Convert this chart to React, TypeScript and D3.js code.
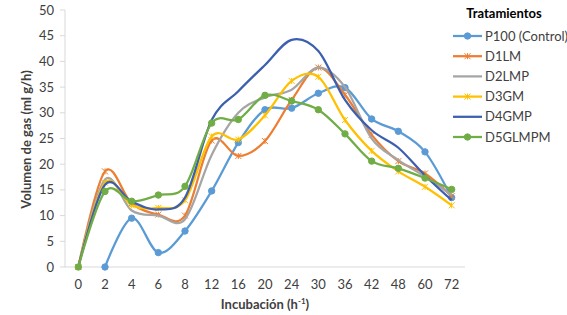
import React from "react";
import * as d3 from "d3";

const categories = ["0", "2", "4", "6", "8", "12", "16", "20", "24", "30", "36", "42", "48", "60", "72"];
const p100: (number | null)[] = [null, 0, 9.5, 2.8, 7, 14.8, 24.2, 30.6, 30.9, 33.8, 34.9, 28.8, 26.4, 22.4, 13.5];
const d1lm: (number | null)[] = [0, 18.6, 12.4, 10.2, 10, 24.6, 21.6, 24.5, 32.5, 38.8, 33.5, 25.7, 20.6, 18.2, 13.8];
const d2lmp: (number | null)[] = [0, 17, 11, 10, 9.3, 21.8, 30, 33, 34.5, 38.8, 35, 25, 20.8, 17.6, 14];
const d3gm: (number | null)[] = [0, 16.4, 12, 11.5, 13, 25.4, 24.8, 29.5, 36.2, 37, 28.6, 22.6, 18.6, 15.6, 12];
const d4gmp: (number | null)[] = [0, 16, 12.7, 11.2, 13.5, 28.6, 34.2, 39.3, 44.2, 42, 32.5, 26.6, 23.2, 17.8, 13];
const d5glmpm: (number | null)[] = [0, 14.7, 12.8, 14, 15.7, 28, 28.7, 33.4, 32.3, 30.6, 25.9, 20.6, 19.2, 17.3, 15.1];
const yTicks = [0, 5, 10, 15, 20, 25, 30, 35, 40, 45, 50];

const seriesNames = ["P100 (Control)", "D1LM", "D2LMP", "D3GM", "D4GMP", "D5GLMPM"];
const seriesColors = ["#5B9BD5", "#ED7D31", "#A5A5A5", "#FFC000", "#3C5FAE", "#70AD47"];
const seriesMarkers = ["circle", "star", "none", "star", "none", "circle"];
const seriesValues = [p100, d1lm, d2lmp, d3gm, d4gmp, d5glmpm];

const W = 567;
const H = 315;
const left = 65;
const right = 465;
const top = 10;
const bottom = 267;
const font = "Lato, 'Open Sans', sans-serif";

function Marker({ type, x, y, color }: { type: string; x: number; y: number; color: string }) {
  if (type === "circle") return <circle cx={x} cy={y} r={3.2} fill={color} stroke={color} />;
  if (type === "star") {
    const s = 3;
    return (
      <g stroke={color} strokeWidth={1}>
        <line x1={x - s} y1={y - s} x2={x + s} y2={y + s} />
        <line x1={x - s} y1={y + s} x2={x + s} y2={y - s} />
        <line x1={x} y1={y - s} x2={x} y2={y + s} />
      </g>
    );
  }
  return null;
}

export default function App() {
  const x = d3.scaleBand<string>().domain(categories).range([left, right]);
  const y = d3.scaleLinear().domain([0, 50]).range([bottom, top]);
  const cx = (c: string) => (x(c) ?? 0) + x.bandwidth() / 2;
  const line = d3
    .line<number | null>()
    .defined((d) => d !== null)
    .x((_, i) => cx(categories[i]))
    .y((d) => y(d as number))
    .curve(d3.curveCardinal.tension(0));

  const legendX = 453;
  const legendY0 = 36;
  const legendStep = 20.2;

  return (
    <svg width={W} height={H} style={{ position: "absolute", left: 0, top: 0, background: "#fff" }} fontFamily={font}>
      <rect width={W} height={H} fill="#fff" />
      {/* axes */}
      <line x1={left} x2={left} y1={top} y2={bottom} stroke="#D9D9D9" strokeWidth={1} />
      <line x1={left} x2={right} y1={bottom} y2={bottom} stroke="#D9D9D9" strokeWidth={1} />
      {yTicks.map((t) => (
        <g key={t}>
          <line x1={left - 5} x2={left} y1={y(t)} y2={y(t)} stroke="#D9D9D9" />
          <text x={54} y={y(t)} dy="0.35em" textAnchor="end" fontSize={13} fill="#404040">
            {t}
          </text>
        </g>
      ))}
      {categories.map((c) => (
        <text key={c} x={cx(c)} y={289} textAnchor="middle" fontSize={13} fill="#404040">
          {c}
        </text>
      ))}
      {/* series */}
      {seriesValues.map((vals, si) => (
        <g key={si}>
          <path d={line(vals) ?? ""} fill="none" stroke={seriesColors[si]} strokeWidth={2.25} />
          {vals.map((v, i) =>
            v === null ? null : (
              <Marker key={i} type={seriesMarkers[si]} x={cx(categories[i])} y={y(v)} color={seriesColors[si]} />
            )
          )}
        </g>
      ))}
      {/* axis titles */}
      <text
        transform={`translate(31,${(top + bottom) / 2 + 1}) rotate(-90)`}
        textAnchor="middle"
        fontSize={13}
        fontWeight="bold"
        fill="#404040"
      >
        Volumen de gas (ml g/h)
      </text>
      <text x={(left + right) / 2} y={309} textAnchor="middle" fontSize={13} fontWeight="bold" fill="#404040">
        Incubación (h
        <tspan fontSize={8} dy={-5}>-1</tspan>
        <tspan dy={5}>)</tspan>
      </text>
      {/* legend */}
      <text x={504} y={18} textAnchor="middle" fontSize={13} fontWeight="bold" fill="#000">
        Tratamientos
      </text>
      {seriesNames.map((n, i) => {
        const ly = legendY0 + i * legendStep;
        return (
          <g key={n}>
            <line x1={legendX} x2={legendX + 29} y1={ly} y2={ly} stroke={seriesColors[i]} strokeWidth={2.25} />
            <Marker type={seriesMarkers[i]} x={legendX + 14.5} y={ly} color={seriesColors[i]} />
            <text x={legendX + 32} y={ly} dy="0.35em" fontSize={13} fill="#404040">
              {n}
            </text>
          </g>
        );
      })}
    </svg>
  );
}
